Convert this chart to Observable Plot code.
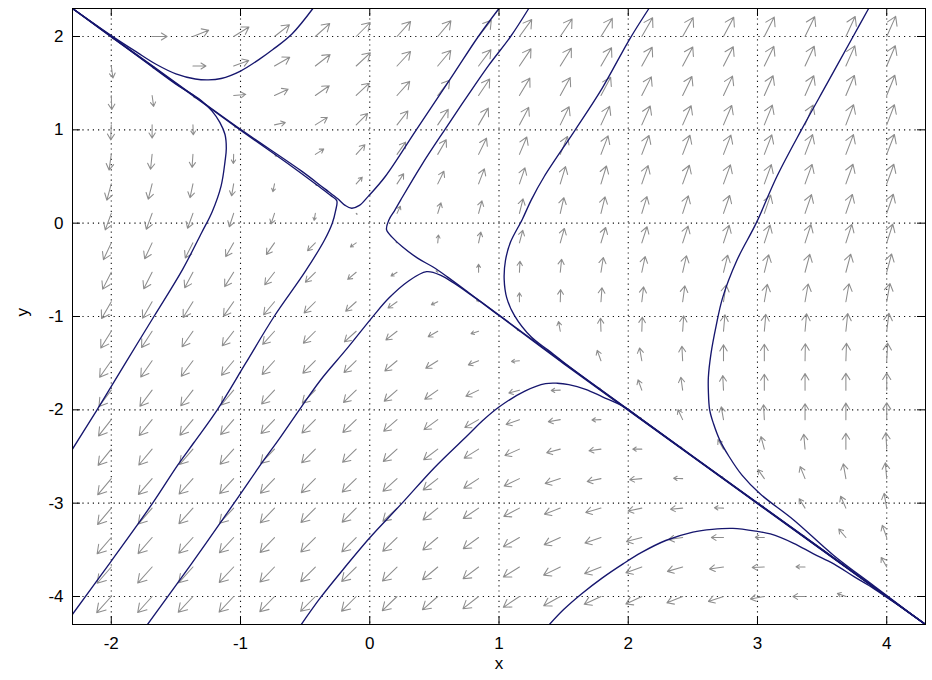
<!DOCTYPE html>
<html>
<head>
<meta charset="utf-8">
<script src="https://cdn.jsdelivr.net/npm/d3@7"></script>
<script src="https://cdn.jsdelivr.net/npm/@observablehq/plot@0.6"></script>
<style>
  html, body { margin: 0; padding: 0; background: #fff; }
  #chart { width: 932px; height: 680px; }
</style>
</head>
<body>
<div id="chart"></div>
<script>
// Axis ticks
const xTicks = [-2, -1, 0, 1, 2, 3, 4];
const yTicks = [-4, -3, -2, -1, 0, 1, 2];

// Quiver sample points (20 x 20 grid)
const gridX = [-2.000, -1.684, -1.368, -1.053, -0.737, -0.421, -0.105, 0.211, 0.526, 0.842,
               1.158, 1.474, 1.789, 2.105, 2.421, 2.737, 3.053, 3.368, 3.684, 4.000];
const gridY = [2.000, 1.684, 1.368, 1.053, 0.737, 0.421, 0.105, -0.211, -0.526, -0.842,
               -1.158, -1.474, -1.789, -2.105, -2.421, -2.737, -3.053, -3.368, -3.684, -4.000];

// Arrow direction at each grid point, degrees clockwise from up (rows top to bottom)
const angleRows = [
  [135, 90, 68, 58, 52, 48, 45, 42, 40, 38, 36, 34, 32, 30, 29, 28, 27, 26, 25, 24],
  [172, 135, 90, 70, 60, 52, 47, 43, 40, 37, 34, 32, 30, 29, 28, 27, 26, 25, 24, 23],
  [178, 172, 135, 85, 65, 55, 47, 42, 38, 34, 31, 29, 28, 27, 26, 25, 24, 24, 23, 22],
  [182, 180, 178, 135, 78, 58, 45, 38, 34, 30, 28, 26, 25, 24, 24, 23, 22, 22, 21, 21],
  [188, 186, 184, 182, 135, 58, 42, 35, 30, 26, 23, 22, 21, 21, 21, 21, 21, 21, 21, 21],
  [195, 194, 192, 190, 192, 135, 42, 33, 26, 21, 19, 17, 17, 19, 20, 20, 20, 20, 20, 20],
  [200, 200, 200, 198, 198, 190, 135, 25, 17, 15, 14, 13, 14, 17, 18, 19, 19, 19, 19, 19],
  [205, 205, 207, 210, 215, 225, 235, 315, 5, 12, 15, 16, 17, 18, 18, 18, 18, 18, 18, 18],
  [207, 207, 208, 212, 218, 225, 230, 238, 315, 0, 3, 6, 9, 12, 13, 14, 14, 15, 15, 15],
  [210, 210, 212, 215, 220, 225, 228, 235, 245, 315, 0, 2, 4, 7, 8, 9, 10, 10, 10, 10],
  [212, 213, 215, 218, 222, 225, 228, 232, 240, 252, 315, 350, 358, 2, 4, 5, 5, 5, 6, 7],
  [215, 215, 217, 220, 222, 225, 226, 230, 238, 248, 265, 315, 340, 350, 357, 0, 0, 1, 2, 3],
  [217, 217, 218, 220, 223, 225, 226, 229, 235, 244, 255, 268, 315, 340, 352, 357, 0, 0, 0, 0],
  [218, 219, 220, 221, 224, 225, 226, 229, 234, 240, 250, 260, 268, 315, 335, 350, 357, 0, 0, 0],
  [219, 220, 221, 222, 224, 225, 226, 228, 233, 238, 246, 255, 262, 270, 315, 330, 345, 355, 0, 357],
  [220, 221, 222, 223, 224, 225, 226, 228, 232, 237, 244, 252, 258, 265, 272, 315, 325, 338, 350, 355],
  [220, 221, 222, 223, 224, 225, 225, 227, 231, 236, 242, 249, 254, 258, 265, 272, 315, 328, 336, 350],
  [221, 221, 222, 223, 224, 225, 225, 226, 230, 234, 240, 246, 251, 255, 262, 270, 272, 315, 320, 340],
  [221, 222, 222, 223, 224, 225, 225, 226, 230, 233, 238, 244, 248, 250, 254, 262, 268, 272, 315, 330],
  [222, 222, 223, 223, 224, 225, 225, 226, 229, 232, 236, 241, 245, 245, 248, 252, 260, 270, 290, 315]
];

// Relative arrow length at each grid point (percent of the longest)
const speedRows = [
  [15, 68, 77, 82, 86, 88, 90, 92, 93, 94, 95, 96, 97, 98, 98, 99, 99, 100, 100, 100],
  [55, 15, 59, 73, 80, 85, 88, 90, 92, 93, 94, 95, 96, 97, 98, 98, 99, 99, 100, 100],
  [64, 50, 15, 55, 68, 77, 82, 86, 88, 90, 92, 93, 94, 95, 96, 97, 98, 98, 99, 99],
  [68, 60, 45, 15, 50, 64, 73, 80, 85, 88, 90, 92, 93, 94, 95, 96, 97, 97, 98, 98],
  [72, 68, 59, 41, 12, 45, 59, 68, 77, 82, 86, 88, 90, 92, 93, 94, 95, 96, 96, 97],
  [77, 72, 64, 55, 36, 10, 41, 55, 64, 73, 77, 82, 85, 88, 90, 92, 93, 94, 95, 95],
  [80, 77, 72, 64, 50, 32, 6, 36, 50, 59, 68, 73, 77, 80, 84, 86, 88, 90, 91, 92],
  [84, 80, 77, 72, 64, 50, 32, 6, 36, 50, 59, 68, 73, 77, 80, 84, 85, 87, 88, 89],
  [86, 84, 80, 77, 72, 64, 50, 32, 10, 36, 50, 59, 68, 73, 77, 80, 82, 84, 85, 86],
  [88, 86, 84, 80, 77, 72, 64, 50, 32, 12, 41, 55, 64, 68, 73, 77, 80, 82, 83, 84],
  [90, 88, 86, 84, 80, 77, 72, 64, 50, 36, 14, 45, 59, 64, 70, 75, 77, 80, 81, 82],
  [92, 90, 88, 86, 84, 80, 77, 72, 64, 50, 36, 14, 50, 59, 66, 72, 75, 77, 79, 80],
  [93, 92, 90, 88, 86, 84, 80, 77, 72, 64, 50, 41, 14, 50, 59, 66, 72, 75, 77, 78],
  [94, 93, 92, 90, 88, 86, 84, 80, 77, 72, 64, 55, 41, 14, 50, 59, 68, 72, 75, 77],
  [95, 94, 93, 92, 90, 88, 86, 84, 80, 77, 72, 64, 55, 41, 14, 50, 59, 68, 72, 75],
  [96, 95, 94, 93, 92, 90, 88, 86, 84, 80, 77, 72, 64, 55, 41, 14, 50, 59, 68, 72],
  [97, 96, 95, 94, 93, 92, 90, 88, 86, 84, 80, 77, 72, 64, 55, 41, 14, 50, 59, 68],
  [98, 97, 96, 95, 94, 93, 92, 90, 88, 86, 84, 80, 77, 72, 64, 55, 41, 14, 50, 59],
  [98, 98, 97, 96, 95, 94, 93, 92, 90, 88, 86, 84, 80, 77, 72, 64, 55, 41, 14, 50],
  [99, 98, 98, 97, 96, 95, 94, 93, 92, 90, 88, 86, 84, 80, 77, 72, 64, 55, 41, 14]
];

// Trajectories entering along the separatrix from the upper left
const orbitTopHump = [[-2.3, 2.3], [-2.0, 2.01], [-1.8, 1.83], [-1.65, 1.70], [-1.5, 1.6], [-1.35, 1.545],
  [-1.25, 1.535], [-1.15, 1.55], [-1.0, 1.63], [-0.85, 1.76], [-0.75, 1.86], [-0.6, 2.03], [-0.44, 2.3]];
const orbitLeftBend = [[-2.3, 2.3], [-2.0, 1.998], [-1.7, 1.692], [-1.5, 1.49], [-1.38, 1.385], [-1.3, 1.31],
  [-1.22, 1.2], [-1.16, 1.08], [-1.12, 0.95], [-1.11, 0.8], [-1.12, 0.66], [-1.15, 0.4], [-1.22, 0.12],
  [-1.3, -0.1], [-1.45, -0.5], [-1.67, -1.0], [-1.9, -1.52], [-2.11, -2.0], [-2.3, -2.42]];
const orbitCentreUp = [[-2.3, 2.3], [-2.0, 2.003], [-1.5, 1.505], [-1.0, 1.006], [-0.53, 0.56], [-0.35, 0.37],
  [-0.25, 0.265], [-0.19, 0.19], [-0.14, 0.16], [-0.08, 0.19], [-0.01, 0.29], [0.12, 0.5], [0.36, 1.0],
  [0.64, 1.58], [0.84, 2.0], [1.0, 2.3]];
const orbitCentreDown = [[-2.3, 2.3], [-2.0, 1.996], [-1.5, 1.497], [-1.0, 0.997], [-0.6, 0.605], [-0.4, 0.4],
  [-0.3, 0.295], [-0.255, 0.24], [-0.265, 0.13], [-0.29, 0.0], [-0.35, -0.18], [-0.5, -0.52], [-0.74, -1.0],
  [-0.96, -1.5], [-1.18, -2.0], [-1.36, -2.35], [-1.49, -2.6], [-1.68, -3.0], [-2.0, -3.62], [-2.3, -4.19]];

// Trajectories entering along the separatrix from the lower right
const orbitLowerPeak = [[4.3, -4.3], [3.5, -3.505], [2.5, -2.505], [1.5, -1.505], [1.0, -0.99], [0.81, -0.795],
  [0.55, -0.56], [0.44, -0.52], [0.29, -0.63], [0.15, -0.8], [0.03, -0.99], [-0.18, -1.35], [-0.38, -1.68],
  [-0.53, -1.97], [-0.71, -2.33], [-0.82, -2.54], [-1.05, -3.0], [-1.38, -3.65], [-1.72, -4.3]];
const orbitInnerUp = [[4.3, -4.3], [3.5, -3.495], [2.5, -2.497], [1.5, -1.495], [1.0, -0.985], [0.8, -0.78],
  [0.6, -0.575], [0.49, -0.47], [0.37, -0.375], [0.25, -0.25], [0.18, -0.16], [0.13, -0.07], [0.15, 0.04],
  [0.19, 0.13], [0.24, 0.25], [0.4, 0.62], [0.58, 1.0], [0.75, 1.35], [0.92, 1.69], [1.09, 2.0], [1.23, 2.3]];
const orbitMiddleUp = [[4.3, -4.3], [3.5, -3.5], [2.5, -2.5], [1.8, -1.8], [1.5, -1.49], [1.38, -1.36],
  [1.25, -1.22], [1.12, -0.99], [1.06, -0.8], [1.04, -0.6], [1.05, -0.4], [1.09, -0.2], [1.18, 0.04],
  [1.25, 0.25], [1.35, 0.5], [1.59, 1.0], [1.8, 1.45], [2.01, 1.97], [2.16, 2.3]];
const orbitOuterUp = [[4.3, -4.3], [4.1, -4.095], [3.9, -3.885], [3.59, -3.56], [3.28, -3.18], [3.02, -2.9],
  [2.88, -2.7], [2.78, -2.5], [2.71, -2.33], [2.66, -2.15], [2.63, -2.0], [2.62, -1.8], [2.62, -1.65],
  [2.64, -1.4], [2.68, -1.1], [2.73, -0.8], [2.84, -0.4], [2.99, 0.0], [3.15, 0.5], [3.34, 1.0],
  [3.54, 1.5], [3.74, 2.0], [3.86, 2.3]];
const orbitBottomHump = [[4.3, -4.3], [4.1, -4.105], [3.9, -3.915], [3.75, -3.79], [3.59, -3.65],
  [3.43, -3.54], [3.28, -3.43], [3.1, -3.33], [2.99, -3.3], [2.81, -3.27], [2.65, -3.28], [2.5, -3.31],
  [2.29, -3.40], [2.1, -3.53], [1.96, -3.65], [1.8, -3.8], [1.64, -3.97], [1.5, -4.14], [1.39, -4.3]];
const orbitMiddleHump = [[4.3, -4.3], [3.5, -3.498], [2.5, -2.502], [2.1, -2.1], [1.96, -1.96], [1.8, -1.86],
  [1.67, -1.78], [1.54, -1.73], [1.45, -1.715], [1.36, -1.72], [1.2, -1.8], [1.0, -1.97], [0.87, -2.12],
  [0.76, -2.27], [0.5, -2.62], [0.25, -3.0], [0.0, -3.37], [-0.2, -3.7], [-0.38, -4.01], [-0.53, -4.3]];

const orbits = [orbitTopHump, orbitLeftBend, orbitCentreUp, orbitCentreDown, orbitLowerPeak,
  orbitInnerUp, orbitMiddleUp, orbitOuterUp, orbitBottomHump, orbitMiddleHump];

const orbitPoints = orbits.flatMap((pts, id) => pts.map(([x, y]) => ({id, x, y})));

const field = [];
angleRows.forEach((row, r) => row.forEach((angle, i) => {
  field.push({x: gridX[i], y: gridY[r], angle, speed: speedRows[r][i]});
}));

// Quiver-style arrow: shaft plus two open barbs at the tip
const quiverArrow = {
  draw(context, l) {
    const head = l * 0.38;
    const wing = head * 0.62;
    context.moveTo(0, 0);
    context.lineTo(0, -l);
    context.moveTo(-wing, -l + head);
    context.lineTo(0, -l);
    context.lineTo(wing, -l + head);
  }
};

const innerW = 853, innerH = 616, tickLen = 8;
const fontSize = 17;

const chart = Plot.plot({
  width: 932,
  height: 680,
  marginLeft: 72,
  marginRight: 7,
  marginTop: 8,
  marginBottom: 56,
  style: {fontFamily: "'Liberation Sans', Arial, sans-serif", fontSize: `${fontSize}px`, background: "#fff", color: "#000"},
  x: {domain: [-2.3, 4.3]},
  y: {domain: [-4.3, 2.3]},
  length: {type: "linear", domain: [0, 100], range: [0, 22]},
  marks: [
    // dotted grid
    Plot.ruleX(xTicks, {stroke: "#111", strokeWidth: 1.1, strokeDasharray: "1.2,4"}),
    Plot.ruleY(yTicks, {stroke: "#111", strokeWidth: 1.1, strokeDasharray: "1.2,4"}),
    // direction field
    Plot.vector(field, {
      x: "x", y: "y", rotate: "angle", length: "speed", anchor: "start",
      shape: quiverArrow, stroke: "#8d8d8d", strokeWidth: 1.05
    }),
    // trajectories
    Plot.line(orbitPoints, {
      x: "x", y: "y", z: "id", curve: "catmull-rom",
      stroke: "#16166e", strokeWidth: 1.35, clip: true
    }),
    Plot.frame({stroke: "#000", strokeWidth: 1}),
    // inward ticks on all four sides
    Plot.ruleX(xTicks, {stroke: "#000", insetTop: innerH - tickLen}),
    Plot.ruleX(xTicks, {stroke: "#000", insetBottom: innerH - tickLen}),
    Plot.ruleY(yTicks, {stroke: "#000", insetRight: innerW - tickLen}),
    Plot.ruleY(yTicks, {stroke: "#000", insetLeft: innerW - tickLen}),
    Plot.axisX(xTicks, {anchor: "bottom", tickSize: 0, tickPadding: 12, fontSize, tickFormat: (d) => String(d), label: null}),
    Plot.axisY(yTicks, {anchor: "left", tickSize: 0, tickPadding: 9, fontSize, tickFormat: (d) => String(d), label: null}),
    Plot.text(["x"], {text: (d) => d, frameAnchor: "bottom", dy: 44, fontSize, fill: "#000"}),
    Plot.text(["y"], {text: (d) => d, frameAnchor: "left", dx: -50, rotate: -90, fontSize, fill: "#000"})
  ]
});

document.getElementById("chart").append(chart);
</script>
</body>
</html>
